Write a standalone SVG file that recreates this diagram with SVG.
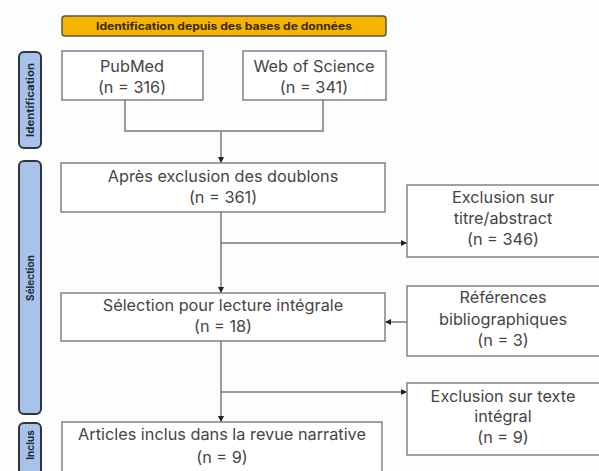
<svg xmlns="http://www.w3.org/2000/svg" width="599" height="471" viewBox="0 0 599 471">
<style>
.box{fill:#fff;stroke:#8a8a8a;stroke-width:1.6}
.side{fill:#a7c3ea;stroke:#2e3440;stroke-width:2}
.t{font-family:Inter,"Liberation Sans",sans-serif;font-size:16.3px;fill:#454545;text-anchor:middle}
.st{font-family:Inter,"Liberation Sans",sans-serif;font-size:10px;font-weight:bold;fill:#1e2a3a;text-anchor:middle}
.ln{fill:none;stroke:#7a7a7a;stroke-width:1.5}
</style>
<defs>
<marker id="ah" viewBox="0 0 6 6" refX="5" refY="3" markerWidth="6" markerHeight="6" markerUnits="userSpaceOnUse" orient="auto">
<path d="M0,0 L6,3 L0,6 z" fill="#222"/>
</marker>
</defs>
<rect width="599" height="471" fill="#fdfdfb"/>
<g id="banner">
<rect x="62" y="16" width="324" height="20" rx="3" fill="#f4b400" stroke="#555" stroke-width="1.5"/>
<text x="224" y="30" class="st" style="font-size:10.5px;fill:#3a2a00" textLength="256" lengthAdjust="spacingAndGlyphs">Identification depuis des bases de données</text>
</g>
<g id="side-identification">
<rect x="19" y="52" width="22" height="96" rx="5" class="side"/>
<text transform="translate(34,100) rotate(-90)" class="st" textLength="74" lengthAdjust="spacingAndGlyphs">Identification</text>
</g>
<g id="side-selection">
<rect x="19" y="161" width="22" height="253" rx="5" class="side"/>
<text transform="translate(34,278) rotate(-90)" class="st">Sélection</text>
</g>
<g id="side-inclus">
<rect x="19" y="423" width="22" height="60" rx="5" class="side"/>
<text transform="translate(34,445) rotate(-90)" class="st">Inclus</text>
</g>
<g id="pubmed">
<rect x="62" y="51" width="141" height="49" class="box"/>
<text x="132" y="72" class="t">PubMed</text>
<text x="132" y="93" class="t">(n = 316)</text>
</g>
<g id="wos">
<rect x="243" y="51" width="143" height="49" class="box"/>
<text x="314" y="72" class="t">Web of Science</text>
<text x="314" y="93" class="t">(n = 341)</text>
</g>
<g id="doublons">
<rect x="61" y="163" width="324" height="49" class="box"/>
<text x="223" y="182" class="t">Après exclusion des doublons</text>
<text x="223" y="203" class="t">(n = 361)</text>
</g>
<g id="excl-titre">
<rect x="407" y="185" width="196" height="72" class="box"/>
<text x="503" y="203" class="t">Exclusion sur</text>
<text x="503" y="224" class="t">titre/abstract</text>
<text x="503" y="245" class="t">(n = 346)</text>
</g>
<g id="selection">
<rect x="61" y="293" width="324" height="48" class="box"/>
<text x="223" y="311" class="t">Sélection pour lecture intégrale</text>
<text x="223" y="332" class="t">(n = 18)</text>
</g>
<g id="references">
<rect x="407" y="286" width="196" height="70" class="box"/>
<text x="503" y="303" class="t">Références</text>
<text x="503" y="325" class="t">bibliographiques</text>
<text x="503" y="346" class="t">(n = 3)</text>
</g>
<g id="excl-texte">
<rect x="407" y="383" width="196" height="72" class="box"/>
<text x="503" y="402" class="t">Exclusion sur texte</text>
<text x="503" y="422" class="t">intégral</text>
<text x="503" y="443" class="t">(n = 9)</text>
</g>
<g id="articles">
<rect x="62" y="422" width="320" height="60" class="box"/>
<text x="222" y="440" class="t">Articles inclus dans la revue narrative</text>
<text x="222" y="463" class="t">(n = 9)</text>
</g>
<g id="connectors">
<path d="M125,100 V131 H323 V100" class="ln"/>
<path d="M221,131 V162" class="ln" marker-end="url(#ah)"/>
<path d="M221,212 V292" class="ln" marker-end="url(#ah)"/>
<path d="M221,243 H406" class="ln" marker-end="url(#ah)"/>
<path d="M407,322 H386" class="ln" marker-end="url(#ah)"/>
<path d="M221,341 V421" class="ln" marker-end="url(#ah)"/>
<path d="M221,392 H406" class="ln" marker-end="url(#ah)"/>
</g>
</svg>
